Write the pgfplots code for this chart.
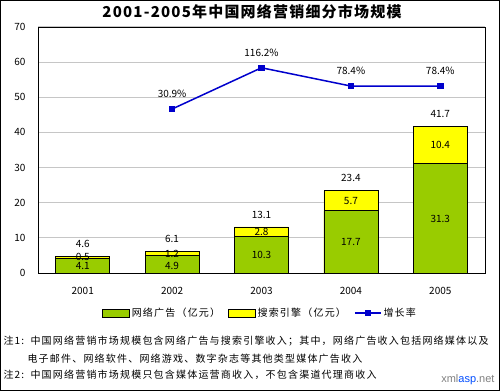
\documentclass[border=0pt]{standalone}
\usepackage{pgfplots}
\pgfplotsset{compat=1.18}
\usepackage{fontspec}
\setmainfont{Noto Sans CJK SC}
\newfontfamily\notefont[LetterSpace=12]{Noto Sans CJK SC}
\newfontfamily\titlefont[LetterSpace=8]{Noto Sans CJK SC}
\newfontfamily\wmfont{Liberation Sans}
\definecolor{barg}{HTML}{99CC00}
\definecolor{bary}{HTML}{FFFF00}
\definecolor{lineb}{HTML}{0000CC}
\pgfplotsset{/pgf/number format/assume math mode=true}
\begin{document}
\begin{tikzpicture}[x=1pt,y=1pt]
\draw[line width=1pt] (0.5,0.5) rectangle (499.5,390.5);
\node at (252,379) {\titlefont\bfseries\fontsize{15}{18}\selectfont 2001-2005年中国网络营销细分市场规模};
\begin{axis}[scale only axis, width=447pt, height=246pt, at={(38pt,118pt)}, anchor=south west,
  xmin=-0.5, xmax=4.5, ymin=0, ymax=70, ytick={0,10,...,70}, xtick={0,1,2,3,4},
  xticklabels={2001,2002,2003,2004,2005},
  ymajorgrids, grid style={draw=gray!45, line width=1pt}, major tick length=0pt,
  axis line style={line width=0.8pt},
  tick label style={font=\fontsize{10}{12}\selectfont},
  yticklabel style={xshift=-9pt}, xticklabel style={yshift=-11pt},
  every node near coord/.style={font=\fontsize{10}{12}\selectfont, black}]
\addplot[ybar, bar width=54pt, bar shift=0pt, fill=bary, draw=black, line width=0.8pt,
  nodes near coords, every node near coord/.append style={anchor=south, yshift=5pt}]
  coordinates {(0,4.6) (1,6.1) (2,13.1) (3,23.4) (4,41.7)};
\addplot[ybar, bar width=54pt, bar shift=0pt, fill=barg, draw=black, line width=0.8pt]
  coordinates {(0,4.1) (1,4.9) (2,10.3) (3,17.7) (4,31.3)};
\addplot[draw=none, nodes near coords, point meta=explicit symbolic,
  every node near coord/.append style={anchor=center}]
  coordinates {(0,1.9)[4.1] (1,2.1)[4.9] (2,5.0)[10.3] (3,8.7)[17.7] (4,15.5)[31.3]};
\addplot[draw=none, nodes near coords, point meta=explicit symbolic,
  every node near coord/.append style={anchor=center}]
  coordinates {(0,4.5)[0.5] (1,5.5)[1.2] (2,11.7)[2.8] (3,20.55)[5.7] (4,36.3)[10.4]};
\end{axis}
\begin{axis}[scale only axis, width=447pt, height=246pt, at={(38pt,118pt)}, anchor=south west,
  hide axis, xmin=-0.5, xmax=4.5, ymin=-308.2, ymax=200.5,
  legend style={at={(0.497,-0.163)}, anchor=center, draw=none, legend columns=3,
    font=\notefont\fontsize{10}{12}\selectfont, /tikz/every even column/.style={column sep=6pt}},
  every node near coord/.style={font=\fontsize{10}{12}\selectfont, black}]
\addlegendimage{legend image code/.code={\draw[fill=barg,draw=black] (0pt,-4pt) rectangle (27pt,4pt);}}
\addlegendentry{网络广告（亿元）}
\addlegendimage{legend image code/.code={\draw[fill=bary,draw=black] (0pt,-4pt) rectangle (27pt,4pt);}}
\addlegendentry{搜索引擎（亿元）}
\addplot[lineb, line width=1.5pt, mark=square*, mark size=2.5pt,
  nodes near coords, point meta=explicit symbolic,
  every node near coord/.append style={anchor=south, yshift=7pt},
  legend image code/.code={\draw[lineb, line width=1.5pt] (0pt,0pt) -- (26pt,0pt); \fill[lineb] (10.5pt,-2.5pt) rectangle (15.5pt,2.5pt);}]
  coordinates {(1,30.9)[30.9\%] (2,116.2)[116.2\%] (3,78.4)[78.4\%] (4,78.4)[78.4\%]};
\addlegendentry{增长率}
\end{axis}
\node[anchor=west] at (0,50) {\notefont\fontsize{10}{12}\selectfont 注1:};
\node[anchor=west] at (27,50) {\notefont\fontsize{10}{12}\selectfont 中国网络营销市场规模包含网络广告与搜索引擎收入；其中，网络广告收入包括网络媒体以及};
\node[anchor=west] at (24,32) {\notefont\fontsize{10}{12}\selectfont 电子邮件、网络软件、网络游戏、数字杂志等其他类型媒体广告收入};
\node[anchor=west] at (0,16) {\notefont\fontsize{10}{12}\selectfont 注2:};
\node[anchor=west] at (27,16) {\notefont\fontsize{10}{12}\selectfont 中国网络营销市场规模只包含媒体运营商收入，不包含渠道代理商收入};
\node[anchor=east] at (498,11) {\wmfont\fontsize{11}{12}\selectfont\textcolor{gray}{xml}\textcolor{blue!70!cyan}{asp}\textcolor{gray}{.net}};
\end{tikzpicture}
\end{document}
